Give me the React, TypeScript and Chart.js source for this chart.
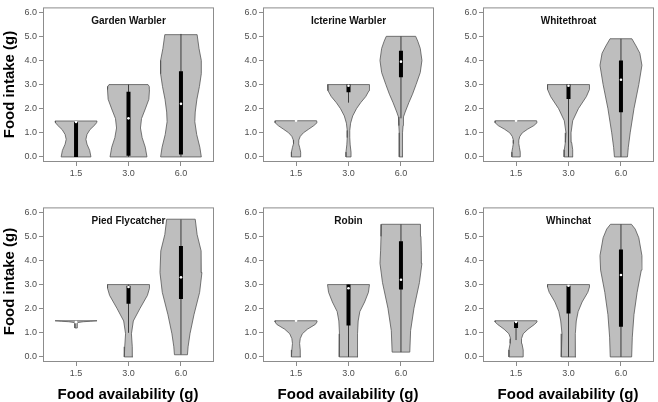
import React, { useEffect, useRef } from "react";
import { Chart, registerables } from "chart.js";

Chart.register(...registerables);

// ---- axis labels ----
const xLabels = ["1.5", "3.0", "6.0"];
const yTicks = [0, 1, 2, 3, 4, 5, 6];
const speciesNames = ["Garden Warbler", "Icterine Warbler", "Whitethroat", "Pied Flycatcher", "Robin", "Whinchat"];

// ---- violin density profiles: [food intake (g), relative width 0..1] ----
const gw15 = [[0, 0.71], [0.27, 0.65], [0.53, 0.52], [0.73, 0.47], [0.93, 0.52], [1.13, 0.66], [1.33, 0.9], [1.42, 0.98], [1.49, 1.0]];
const gw30 = [[0, 0.88], [0.4, 0.8], [0.8, 0.65], [1.2, 0.57], [1.59, 0.62], [1.99, 0.8], [2.39, 0.97], [2.79, 1.0], [2.92, 0.99], [3.0, 0.93]];
const gw60 = [[0, 0.97], [0.4, 0.9], [0.93, 0.75], [1.46, 0.66], [1.86, 0.68], [2.39, 0.76], [2.92, 0.88], [3.45, 0.97], [4.0, 0.97], [4.5, 0.86], [5.07, 0.77]];

const ic15 = [[0, 0.22], [0.2, 0.22], [0.4, 0.17], [0.55, 0.12], [0.7, 0.13], [0.85, 0.2], [1.0, 0.35], [1.15, 0.6], [1.3, 0.85], [1.42, 1.0], [1.5, 0.98]];
const ic30 = [[0, 0.12], [0.2, 0.12], [0.5, 0.08], [0.8, 0.06], [1.1, 0.06], [1.4, 0.1], [1.7, 0.2], [2.0, 0.38], [2.25, 0.58], [2.5, 0.82], [2.75, 0.98], [3.0, 1.0]];
const ic60 = [[0, 0.09], [0.5, 0.07], [1.0, 0.08], [1.3, 0.1], [1.66, 0.12], [1.86, 0.2], [2.26, 0.38], [2.6, 0.55], [3.0, 0.72], [3.5, 0.92], [4.0, 1.0], [4.5, 0.92], [4.8, 0.8], [5.0, 0.7]];

const wt15 = [[0, 0.2], [0.2, 0.2], [0.4, 0.16], [0.55, 0.13], [0.7, 0.13], [0.85, 0.18], [1.0, 0.3], [1.15, 0.55], [1.3, 0.85], [1.42, 1.0], [1.5, 0.98]];
const wt30 = [[0, 0.21], [0.3, 0.2], [0.6, 0.15], [1.0, 0.12], [1.5, 0.2], [2.0, 0.47], [2.5, 0.85], [2.8, 1.0], [3.0, 1.0]];
const wt60 = [[0, 0.31], [0.4, 0.35], [1.0, 0.44], [2.0, 0.62], [3.0, 0.85], [3.8, 1.0], [4.3, 0.9], [4.6, 0.72], [4.9, 0.52]];

const pf15 = [[1.2, 0.05], [1.3, 0.06], [1.38, 0.06], [1.43, 0.1], [1.46, 0.35], [1.48, 0.7], [1.5, 1.0]];
const pf30 = [[0, 0.2], [0.42, 0.18], [0.96, 0.14], [1.49, 0.23], [2.0, 0.54], [2.55, 0.9], [2.85, 1.0], [3.0, 1.0]];
const pf60 = [[0.09, 0.31], [0.42, 0.34], [0.96, 0.43], [1.75, 0.62], [2.68, 0.89], [3.5, 1.0], [4.4, 0.96], [5.07, 0.77], [5.71, 0.68]];

const rb15 = [[0, 0.22], [0.29, 0.2], [0.56, 0.17], [0.76, 0.2], [0.96, 0.3], [1.15, 0.54], [1.35, 0.92], [1.45, 1.0], [1.5, 1.0]];
const rb30 = [[0, 0.45], [0.42, 0.43], [0.96, 0.43], [1.49, 0.46], [1.88, 0.54], [2.28, 0.77], [2.68, 0.95], [3.0, 1.0]];
const rb60 = [[0.2, 0.42], [1.09, 0.46], [2.02, 0.62], [3.08, 0.88], [3.88, 1.0], [4.4, 0.97], [5.0, 0.95], [5.5, 0.93]];

const wc15 = [[0, 0.34], [0.29, 0.34], [0.56, 0.28], [0.76, 0.26], [0.96, 0.34], [1.15, 0.57], [1.35, 0.88], [1.45, 1.0], [1.5, 1.0]];
const wc30 = [[0, 0.35], [0.42, 0.34], [0.96, 0.31], [1.49, 0.37], [1.88, 0.46], [2.28, 0.65], [2.68, 0.92], [2.9, 1.0], [3.0, 1.0]];
const wc60 = [[0, 0.51], [0.82, 0.54], [1.75, 0.62], [2.68, 0.77], [3.6, 0.97], [4.2, 1.0], [4.94, 0.85], [5.3, 0.68], [5.5, 0.5]];

// ---- box summaries per availability: [whisker low, Q1, median, Q3, whisker high] ----
const gwBox = [[0, 0, 1.45, 1.45, 1.5], [0, 0.05, 1.6, 2.7, 3.0], [0, 0.1, 2.2, 3.55, 5.1]];
const icBox = [[1.5, 1.5, 1.5, 1.5, 1.5], [2.25, 2.68, 2.95, 3.0, 3.0], [1.6, 3.3, 3.95, 4.4, 5.0]];
const wtBox = [[1.5, 1.5, 1.5, 1.5, 1.5], [0, 2.4, 2.95, 3.0, 3.0], [0, 1.85, 3.2, 4.0, 4.9]];
const pfBox = [[1.45, 1.45, 1.45, 1.45, 1.45], [1.0, 2.2, 2.9, 2.95, 3.0], [0.1, 2.4, 3.3, 4.6, 5.7]];
const rbBox = [[1.5, 1.5, 1.5, 1.5, 1.5], [0, 1.3, 2.85, 3.0, 3.0], [0.2, 2.8, 3.2, 4.8, 5.5]];
const wcBox = [[0.7, 1.2, 1.45, 1.45, 1.5], [0, 1.8, 2.95, 2.95, 3.0], [0, 1.25, 3.4, 4.45, 5.5]];

const panelViolins = [[gw15, gw30, gw60], [ic15, ic30, ic60], [wt15, wt30, wt60], [pf15, pf30, pf60], [rb15, rb30, rb60], [wc15, wc30, wc60]];
const panelBoxes = [gwBox, icBox, wtBox, pfBox, rbBox, wcBox];

const FONT = '"Liberation Sans", Arial, Helvetica, sans-serif';
const HALF = 0.4;
const CW = 218;
const CH = 190;
const FRAME = "#8c8c8c";
const VIOLIN_FILL = "#bebebe";

function Panel({ idx }: { idx: number }) {
  const ref = useRef<HTMLCanvasElement | null>(null);
  const col = idx % 3;
  const row = Math.floor(idx / 3);
  useEffect(() => {
    const title = speciesNames[idx];
    const datasets: any[] = [];
    panelBoxes[idx].forEach((b, i) => {
      datasets.push({
        data: [{ x: i, y: b[2] }],
        showLine: false,
        pointRadius: 1.3,
        pointBackgroundColor: "#ffffff",
        pointBorderWidth: 0,
        order: 0,
      });
      datasets.push({
        data: [{ x: i, y: b[1] }, { x: i, y: b[3] }],
        borderColor: "#000000",
        borderWidth: 4,
        borderCapStyle: "butt",
        pointRadius: 0,
        fill: false,
        order: 1,
      });
      datasets.push({
        data: [{ x: i, y: b[0] }, { x: i, y: b[4] }],
        borderColor: "#3c3c3c",
        borderWidth: 1,
        pointRadius: 0,
        fill: false,
        order: 2,
      });
    });
    panelViolins[idx].forEach((prof, i) => {
      const right = prof.map(([y, w]) => ({ x: i + HALF * w, y }));
      const left = prof.slice().reverse().map(([y, w]) => ({ x: i - HALF * w, y }));
      datasets.push({
        violin: true,
        data: [...right, ...left, right[0]],
        fill: false,
        borderColor: "#555555",
        borderWidth: 0.8,
        pointRadius: 0,
        tension: 0,
        order: 3,
      });
    });

    const violinFillPlugin = {
      id: "violinFill",
      beforeDatasetDraw(chart: any, args: any) {
        const ds = chart.data.datasets[args.index];
        if (!ds.violin) return;
        const pts = args.meta.data;
        if (!pts.length) return;
        const ctx = chart.ctx;
        ctx.save();
        ctx.beginPath();
        ctx.moveTo(pts[0].x, pts[0].y);
        for (let k = 1; k < pts.length; k++) ctx.lineTo(pts[k].x, pts[k].y);
        ctx.closePath();
        ctx.fillStyle = VIOLIN_FILL;
        ctx.fill();
        ctx.restore();
      },
    };

    const framePlugin = {
      id: "frameAndTitle",
      afterDraw(chart: any) {
        const { ctx, chartArea } = chart;
        const { left, top, right, bottom } = chartArea;
        ctx.save();
        ctx.strokeStyle = FRAME;
        ctx.lineWidth = 1;
        ctx.strokeRect(left + 0.5, top + 0.5, right - left - 1, bottom - top - 1);
        ctx.font = `bold 10px ${FONT}`;
        ctx.fillStyle = "#111111";
        ctx.textAlign = "center";
        ctx.textBaseline = "alphabetic";
        ctx.fillText(title, (left + right) / 2, top + 17);
        ctx.restore();
      },
    };

    const tickFont = { family: FONT, size: 9 };
    const chart = new Chart(ref.current as HTMLCanvasElement, {
      type: "line",
      data: { datasets },
      options: {
        animation: false,
        responsive: false,
        devicePixelRatio: 1,
        layout: { padding: { left: 0, right: 1, top: 1, bottom: 0 } },
        plugins: { legend: { display: false }, tooltip: { enabled: false } },
        scales: {
          x: {
            type: "linear",
            min: -0.63,
            max: 2.63,
            afterBuildTicks: (s: any) => {
              s.ticks = xLabels.map((_, i) => ({ value: i }));
            },
            afterFit: (s: any) => {
              s.height = 28;
            },
            ticks: {
              callback: (_v: any, i: number) => xLabels[i],
              color: "#4d4d4d",
              font: tickFont,
              padding: 2,
              maxRotation: 0,
              autoSkip: false,
            },
            grid: { drawOnChartArea: false, drawTicks: true, tickLength: 4, color: FRAME },
            border: { display: false },
          },
          y: {
            type: "linear",
            min: -0.21,
            max: 6.2,
            afterBuildTicks: (s: any) => {
              s.ticks = yTicks.map((v) => ({ value: v }));
            },
            afterFit: (s: any) => {
              s.width = 43;
            },
            ticks: {
              callback: (v: any) => Number(v).toFixed(1),
              color: "#4d4d4d",
              font: tickFont,
              padding: 2,
              autoSkip: false,
            },
            grid: { drawOnChartArea: false, drawTicks: true, tickLength: 4, color: FRAME },
            border: { display: false },
          },
        },
      } as any,
      plugins: [violinFillPlugin, framePlugin],
    });
    return () => chart.destroy();
  }, [idx]);

  return (
    <div style={{ position: "absolute", left: col * 220, top: row === 0 ? 0 : 200, width: CW, height: CH }}>
      <canvas ref={ref} width={CW} height={CH} style={{ width: CW, height: CH, display: "block" }} />
    </div>
  );
}

const titleStyle: React.CSSProperties = {
  position: "absolute",
  fontFamily: FONT,
  fontWeight: "bold",
  fontSize: 15,
  lineHeight: "17px",
  height: 17,
  color: "#000",
  textAlign: "center",
  whiteSpace: "nowrap",
};

export default function App() {
  const yTitleW = 140;
  return (
    <div style={{ position: "fixed", left: 0, top: 0, width: 658, height: 402, background: "#fff", overflow: "hidden" }}>
      {[0, 1, 2, 3, 4, 5].map((i) => (
        <Panel key={i} idx={i} />
      ))}
      {[84, 281].map((cy) => (
        <div
          key={cy}
          style={{
            ...titleStyle,
            width: yTitleW,
            left: 7.7 - yTitleW / 2,
            top: cy - 8.5,
            transform: "rotate(-90deg)",
          }}
        >
          Food intake (g)
        </div>
      ))}
      {[0, 1, 2].map((c) => (
        <div key={c} style={{ ...titleStyle, width: 200, left: 130 + 220 * c - 2 - 100, top: 384.5 }}>
          Food availability (g)
        </div>
      ))}
    </div>
  );
}
